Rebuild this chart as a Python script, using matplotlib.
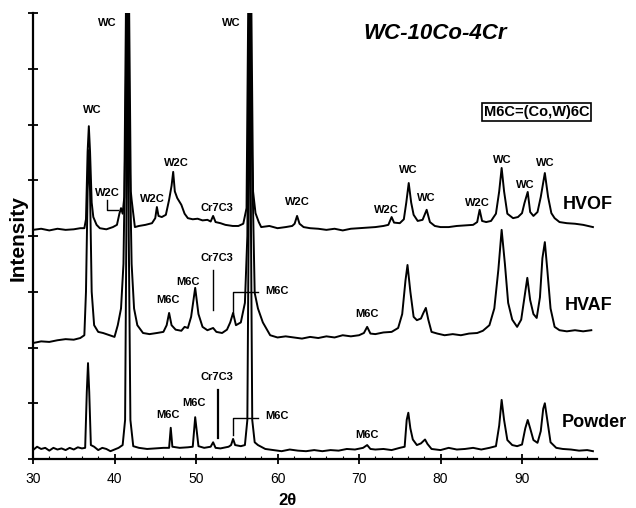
import matplotlib
matplotlib.use("Agg")
import matplotlib.pyplot as plt

plt.rcParams["font.family"] = ["Liberation Sans", "DejaVu Sans"]

# --- traces: (2theta, intensity) pairs, intensity in axis units 0..800
hvof_2t = [30.0, 31.0, 32.0, 33.0, 34.0, 35.0, 35.8, 36.3, 36.5, 36.7, 36.85, 37.0, 37.2, 37.4,
           37.8, 38.2, 39.0, 39.8, 40.3, 40.6, 40.8, 41.0, 41.2, 41.4, 41.6, 41.8, 42.0, 42.1,
           42.5, 43.0, 43.8, 44.6, 45.0, 45.2, 45.4, 45.8, 46.3, 46.7, 47.0, 47.2, 47.4, 47.7,
           48.2, 48.6, 49.0, 49.6, 50.2, 50.8, 51.4, 51.8, 52.1, 52.4, 53.0, 53.6, 54.5, 55.2,
           55.8, 56.2, 56.4, 56.6, 56.8, 57.0, 57.3, 57.7, 58.0, 59.0, 60.0, 61.0, 61.8, 62.1,
           62.4, 62.7, 63.2, 64.0, 65.0, 66.0, 67.0, 68.0, 69.0, 70.0, 71.0, 72.0, 73.0, 73.6,
           74.0, 74.3, 75.0, 75.5, 75.8, 76.1, 76.4, 76.7, 77.2, 77.8, 78.3, 78.7, 79.3, 80.0,
           81.0, 82.0, 83.0, 84.0, 84.5, 84.8, 85.1, 85.6, 86.2, 86.8, 87.2, 87.5, 87.8, 88.2,
           88.9, 89.5, 90.0, 90.3, 90.7, 91.0, 91.4, 91.9, 92.3, 92.8, 93.2, 93.6, 94.0, 94.6,
           95.5, 96.5, 97.5, 98.7]
hvof_i = [411, 413, 410, 413, 411, 412, 414, 414, 430, 551, 597, 551, 460, 434,
          420, 414, 412, 416, 420, 440, 450, 440, 470, 800, 900, 800, 480, 465,
          416, 418, 420, 423, 432, 452, 436, 434, 438, 465, 490, 515, 480, 468,
          456, 440, 432, 430, 431, 428, 429, 426, 436, 425, 423, 420, 418, 418,
          422, 450, 800, 900, 800, 480, 441, 425, 416, 418, 414, 416, 418, 422,
          436, 422, 416, 414, 413, 411, 413, 410, 413, 414, 415, 416, 418, 420,
          434, 424, 423, 430, 460, 495, 460, 438, 427, 429, 447, 425, 418, 416,
          416, 418, 419, 420, 425, 447, 427, 425, 427, 440, 480, 522, 480, 440,
          432, 434, 441, 459, 479, 443, 436, 443, 470, 513, 470, 441, 432, 425,
          423, 422, 420, 416]

hvaf_2t = [30.0, 31.0, 32.0, 33.0, 34.0, 35.0, 35.8, 36.3, 36.5, 36.7, 36.85, 37.0, 37.2, 37.5,
           38.0, 38.6, 39.4, 40.0, 40.4, 40.8, 41.1, 41.35, 41.55, 41.8, 42.1, 42.4, 42.8, 43.5,
           44.3, 45.2, 46.0, 46.4, 46.7, 47.0, 47.5, 48.2, 48.6, 49.0, 49.4, 49.9, 50.3, 50.8,
           51.4, 52.1, 52.5, 53.2, 53.8, 54.2, 54.55, 54.9, 55.5, 56.0, 56.3, 56.55, 56.8, 57.2,
           57.6, 58.2, 59.1, 60.0, 61.0, 62.0, 63.0, 64.0, 65.0, 66.0, 67.0, 68.0, 69.0, 70.0,
           70.6, 71.0, 71.4, 72.0, 73.0, 74.0, 74.8, 75.3, 75.7, 75.95, 76.3, 76.7, 77.1, 77.6,
           77.9, 78.2, 78.5, 78.9, 79.6, 80.5, 81.5, 82.5, 83.5, 84.5, 85.2, 86.0, 86.6, 87.1,
           87.5, 87.9, 88.3, 88.8, 89.4, 89.9, 90.3, 90.65, 91.0, 91.4, 91.8, 92.2, 92.5, 92.8,
           93.1, 93.5, 94.0, 94.6, 95.5, 96.5, 97.5, 98.5]
hvaf_i = [208, 211, 210, 213, 215, 214, 217, 222, 300, 480, 554, 480, 300, 240,
          228, 226, 222, 219, 240, 270, 350, 600, 900, 600, 350, 270, 240, 226,
          224, 226, 228, 240, 262, 240, 232, 230, 237, 235, 255, 307, 260, 237,
          231, 235, 228, 226, 232, 245, 262, 240, 245, 280, 400, 900, 600, 298,
          270, 245, 222, 218, 220, 218, 216, 219, 217, 220, 218, 222, 220, 222,
          226, 237, 225, 224, 227, 228, 235, 260, 320, 348, 300, 255, 249, 252,
          262, 271, 250, 228, 225, 222, 224, 222, 225, 226, 230, 240, 270, 340,
          411, 350, 280, 250, 237, 250, 290, 325, 285, 260, 253, 290, 360, 389,
          340, 270, 237, 231, 229, 231, 229, 231]

powder_2t = [30.0, 30.5, 31.0, 31.5, 32.0, 32.5, 33.0, 33.5, 34.0, 34.5, 35.0, 35.5, 36.0, 36.4,
             36.6, 36.75, 36.9, 37.1, 37.5, 38.0, 38.5, 39.0, 39.5, 40.0, 40.5, 41.0, 41.3, 41.45,
             41.6, 41.75, 41.95, 42.3, 43.0, 44.0, 45.0, 46.0, 46.7, 46.9, 47.1, 48.0, 49.0, 49.6,
             49.9, 50.3, 51.0, 51.8, 52.1, 52.4, 53.0, 54.0, 54.3, 54.55, 54.8, 55.5, 56.0, 56.3,
             56.45, 56.6, 56.75, 56.9, 57.2, 57.6, 58.5, 59.5, 60.5, 61.5, 62.5, 63.5, 64.5, 65.5,
             66.5, 67.5, 68.5, 69.5, 70.5, 71.0, 71.4, 72.0, 73.0, 74.0, 75.0, 75.6, 75.85, 76.05,
             76.3, 76.6, 77.1, 77.6, 78.1, 78.4, 78.9, 80.0, 81.0, 82.0, 83.0, 84.0, 85.0, 86.0,
             86.8, 87.2, 87.5, 87.8, 88.2, 88.8, 89.4, 90.0, 90.4, 90.7, 91.0, 91.4, 91.9, 92.3,
             92.6, 92.8, 93.1, 93.5, 94.2, 95.0, 96.0, 97.0, 98.0, 98.7]
powder_i = [16, 22, 18, 20, 15, 20, 17, 19, 16, 20, 17, 21, 19, 20,
            120, 172, 120, 25, 22, 16, 20, 18, 14, 17, 20, 25, 70, 400,
            900, 400, 70, 23, 20, 18, 19, 20, 20, 56, 22, 20, 21, 22,
            75, 23, 20, 22, 30, 20, 19, 22, 25, 36, 25, 23, 25, 70,
            400, 900, 400, 70, 30, 25, 18, 16, 14, 17, 15, 14, 16, 14,
            16, 15, 18, 17, 20, 25, 18, 17, 18, 16, 20, 22, 70, 83,
            55, 35, 25, 28, 35, 27, 18, 16, 20, 17, 18, 20, 17, 20,
            23, 60, 106, 70, 34, 25, 23, 26, 55, 70, 55, 34, 29, 50,
            90, 100, 70, 30, 20, 18, 17, 15, 16, 14]

x_ticks = [30, 40, 50, 60, 70, 80, 90]

# phase labels: (text, 2theta, intensity)
peak_labels = [
    ("WC", 37.25, 626), ("WC", 39.1, 782), ("WC", 54.3, 782),
    ("W2C", 39.1, 477), ("W2C", 44.6, 466), ("W2C", 47.55, 531),
    ("Cr7C3", 52.6, 450), ("W2C", 62.4, 461), ("W2C", 73.4, 447),
    ("WC", 76.0, 518), ("WC", 78.3, 468), ("W2C", 84.5, 459),
    ("WC", 87.55, 536), ("WC", 90.4, 492), ("WC", 92.8, 531),
    ("Cr7C3", 52.6, 361), ("M6C", 46.6, 285), ("M6C", 49.0, 318), ("M6C", 71.0, 260),
    ("Cr7C3", 52.6, 147), ("M6C", 46.6, 79), ("M6C", 49.75, 100), ("M6C", 71.0, 43),
]
side_labels = [("M6C", 58.5, 301), ("M6C", 58.5, 77)]
trace_names = [("HVOF", 95.0, 456), ("HVAF", 95.3, 276), ("Powder", 94.9, 66)]

fig = plt.figure(figsize=(6.36, 5.08), dpi=100)
ax = fig.add_axes([33 / 636, 1 - 459 / 508, 564 / 636, 446 / 508])

for xs, ys in [(hvof_2t, hvof_i), (hvaf_2t, hvaf_i), (powder_2t, powder_i)]:
    ax.plot(xs, ys, color="black", lw=1.4, solid_joinstyle="round")

# leader lines
ax.plot([39.08, 39.08, 40.45], [465, 447, 447], color="black", lw=1)
ax.plot([52.1, 52.1], [339, 267], color="black", lw=1)
ax.plot([54.54, 54.54, 57.6], [262, 300, 300], color="black", lw=1)
ax.plot([52.7, 52.7], [124, 38], color="black", lw=1.6)
ax.plot([54.54, 54.54, 57.6], [43, 74, 74], color="black", lw=1)

for txt, x, y in peak_labels:
    ax.text(x, y, txt, ha="center", va="center", fontsize=8, fontweight="bold")
for txt, x, y in side_labels:
    ax.text(x, y, txt, ha="left", va="center", fontsize=8, fontweight="bold")
for txt, x, y in trace_names:
    ax.text(x, y, txt, ha="left", va="center", fontsize=13, fontweight="bold")

ax.text(79.3, 764, "WC-10Co-4Cr", ha="center", va="center", fontsize=16,
        fontweight="bold", fontstyle="italic")
ax.text(91.8, 622, "M6C=(Co,W)6C", ha="center", va="center", fontsize=10.5,
        fontweight="bold",
        bbox=dict(boxstyle="square,pad=0.12", facecolor="white", edgecolor="black", lw=1.2))

ax.set_xlim(30, 99.2)
ax.set_ylim(0, 800)
ax.set_xticks(x_ticks)
ax.set_xticks(range(32, 100, 2), minor=True)
ax.set_yticks(range(0, 801, 100))
ax.set_yticklabels([])
ax.tick_params(axis="x", which="major", direction="inout", length=7, width=1.3,
               labelsize=10, pad=6)
ax.tick_params(axis="x", which="minor", direction="in", length=2, width=0.8)
ax.tick_params(axis="y", direction="inout", length=7, width=1.3)
for s in ("top", "right"):
    ax.spines[s].set_visible(False)
for s in ("left", "bottom"):
    ax.spines[s].set_linewidth(1.6)

ax.text(0.452, -0.092, "2θ", transform=ax.transAxes, ha="center", va="center",
        fontsize=12, fontweight="bold")
ax.text(-0.027, 0.496, "Intensity", transform=ax.transAxes, ha="center", va="center",
        rotation=90, fontsize=15, fontweight="bold")

fig.savefig("out.png", dpi=100, facecolor="white")
